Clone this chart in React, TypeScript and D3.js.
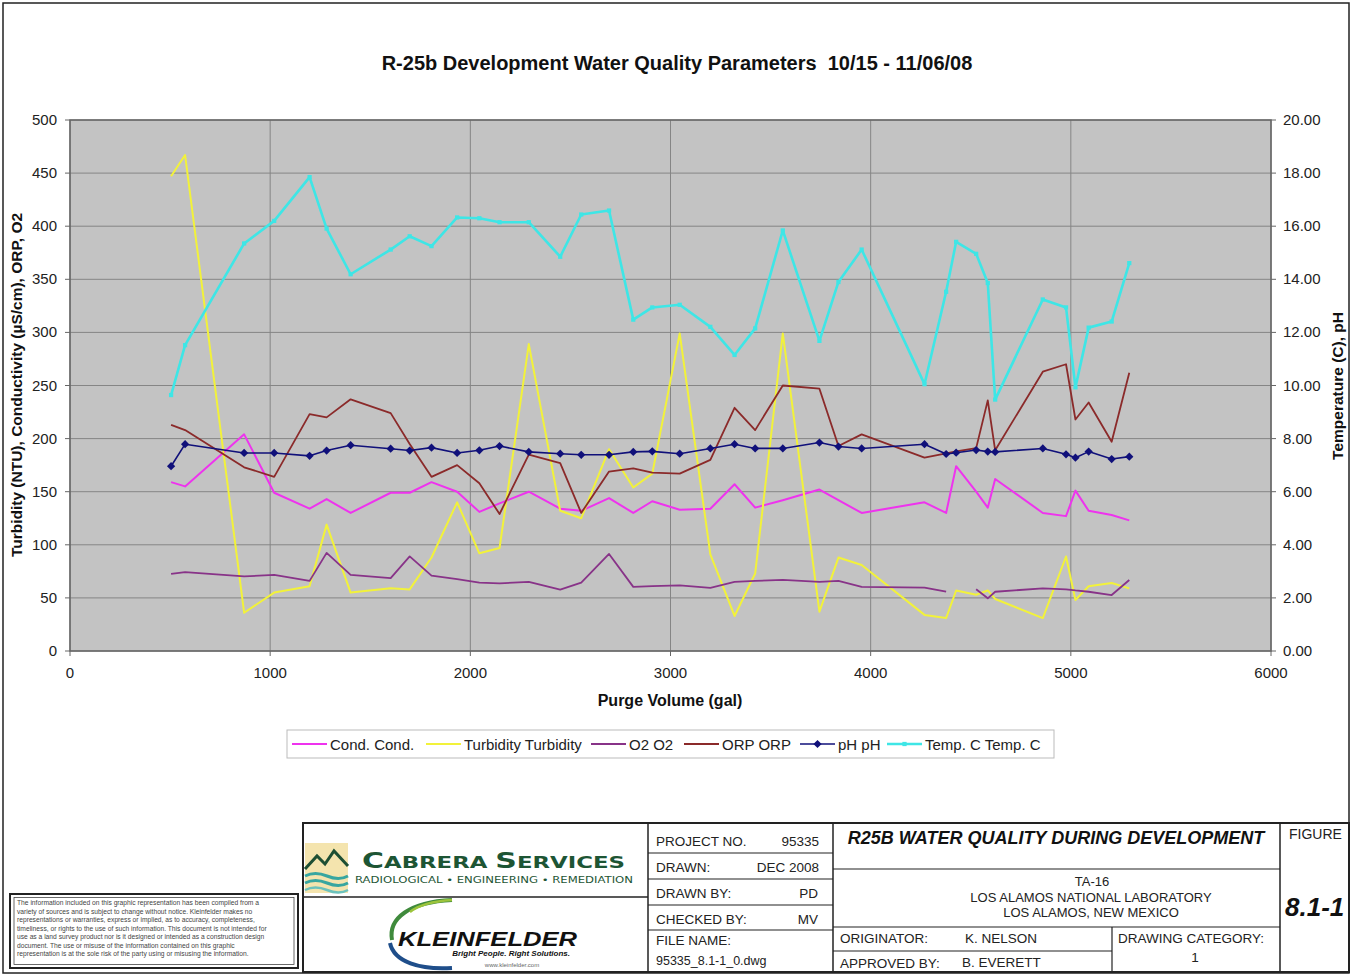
import React from 'react';
import * as d3 from 'd3';

// purge volume (gal) for each reading
const gallons = [505, 575, 870, 1020, 1197, 1282, 1402, 1602, 1697, 1806, 1934, 2045, 2146, 2292, 2449, 2554, 2693, 2814, 2909, 3046, 3199, 3320, 3423, 3561, 3744, 3839, 3955, 4269, 4377, 4427, 4527, 4585, 4622, 4860, 4976, 5023, 5089, 5204, 5292];

// left axis series
const cond = [159, 155, 204, 149, 134, 143, 130, 149, 149, 159, 150, 131, 139, 150, 134, 132, 144, 130, 141, 133, 134, 157, 135, 142, 152, 142, 130, 140, 130, 174, 150, 135, 162, 130, 127, 151, 132, 128, 123];
const turbidity = [447, 467, 36, 55, 61, 119, 55, 59, 58, 88, 140, 92, 97, 289, 132, 125, 190, 154, 167, 299, 91, 33, 73, 299, 37, 88, 81, 34, 31, 57, 53, 57, 49, 31, 89, 48, 61, 64, 59];
const o2 = [72.6, 74.3, 70.3, 71.6, 66.0, 92.4, 71.6, 68.6, 89.1, 71.0, 67.7, 64.4, 63.7, 65.0, 57.8, 64.4, 91.4, 60.4, 61.1, 61.7, 59.4, 65.0, 66.0, 67.0, 65.0, 66.0, 60.4, 59.6, 55.8, null, 58.1, 49.6, 55.8, 59.0, 58.1, 57.0, 55.8, 52.7, 66.9];
const orp = [213, 208, 173, 164, 223, 220, 237, 224, 195, 164, 175, 158, 129, 185, 177, 130, 169, 172, 168, 167, 180, 229, 208, 250, 247, 193, 204, 182, 186, 188, 191, 236, 189, 263, 270, 218, 234, 197, 262];

// right axis series
const ph = [6.96, 7.79, 7.46, 7.46, 7.35, 7.55, 7.75, 7.62, 7.55, 7.66, 7.46, 7.56, 7.72, 7.50, 7.43, 7.39, 7.39, 7.50, 7.52, 7.43, 7.63, 7.79, 7.63, 7.63, 7.85, 7.70, 7.63, 7.79, 7.42, 7.47, 7.57, 7.51, 7.50, 7.63, 7.41, 7.28, 7.51, 7.23, 7.32];
const temp = [9.64, 11.52, 15.35, 16.20, 17.85, 15.91, 14.19, 15.12, 15.62, 15.25, 16.33, 16.30, 16.15, 16.15, 14.85, 16.44, 16.59, 12.48, 12.94, 13.04, 12.21, 11.15, 12.15, 15.84, 11.68, 13.90, 15.12, 10.05, 13.53, 15.41, 14.96, 13.86, 9.47, 13.24, 12.94, 9.93, 12.18, 12.41, 14.61];

const legendLabels = ['Cond. Cond.', 'Turbidity Turbidity', 'O2 O2', 'ORP ORP', 'pH pH', 'Temp. C Temp. C'];

const disclaimer = [
  'The information included on this graphic representation has been compiled from a',
  'variety of sources and is subject to change without notice. Kleinfelder makes no',
  'representations or warranties, express or implied, as to accuracy, completeness,',
  'timeliness, or rights to the use of such information. This document is not intended for',
  'use as a land survey product nor is it designed or intended as a construction design',
  'document. The use or misuse of the information contained on this graphic',
  'representation is at the sole risk of the party using or misusing the information.',
];

const FONT = '"Liberation Sans", Arial, sans-serif';

export default function App() {
  const x = d3.scaleLinear().domain([0, 6000]).range([70, 1271]);
  const yL = d3.scaleLinear().domain([0, 500]).range([651, 120]);
  const yR = d3.scaleLinear().domain([0, 20]).range([651, 120]);

  const series = [
    { values: cond, color: '#ee33ee', width: 2, scale: yL, marker: null },
    { values: turbidity, color: '#f2f23a', width: 2, scale: yL, marker: null },
    { values: o2, color: '#883388', width: 1.8, scale: yL, marker: null },
    { values: orp, color: '#8b2a2a', width: 1.8, scale: yL, marker: null },
    { values: ph, color: '#10107a', width: 1.6, scale: yR, marker: 'diamond' },
    { values: temp, color: '#3ee6e6', width: 2.6, scale: yR, marker: 'square' },
  ];

  const lineFor = (scale: any) =>
    d3.line<number | null>()
      .defined(v => v != null)
      .x((_, i) => x(gallons[i]))
      .y(v => scale(v as number));

  const diamond = d3.symbol(d3.symbolSquare, 34)();
  const square = d3.symbol(d3.symbolSquare, 18)();

  const legendX = [292, 426, 591, 684, 800, 887];

  return (
    <svg width={1352} height={976} style={{ position: 'absolute', left: 0, top: 0, background: '#fff' }} fontFamily={FONT}>
      <rect x={3} y={3} width={1346} height={970} fill="none" stroke="#222" strokeWidth={1.5} />

      <text x={677} y={70} textAnchor="middle" fontSize={20} fontWeight="bold" fill="#111">
        R-25b Development Water Quality Parameters{'\u00a0\u00a0'}10/15 - 11/06/08
      </text>

      {/* plot area */}
      <rect x={70} y={120} width={1201} height={531} fill="#c3c3c3" />
      {yL.ticks(10).map(t => (
        <line key={'h' + t} x1={70} x2={1271} y1={yL(t)} y2={yL(t)} stroke="#858585" strokeWidth={1} />
      ))}
      {x.ticks(6).map(t => (
        <line key={'v' + t} x1={x(t)} x2={x(t)} y1={120} y2={651} stroke="#858585" strokeWidth={1} />
      ))}
      <rect x={70} y={120} width={1201} height={531} fill="none" stroke="#666" strokeWidth={1.5} />

      {/* axes */}
      {yL.ticks(10).map(t => (
        <g key={'yl' + t}>
          <line x1={65} x2={70} y1={yL(t)} y2={yL(t)} stroke="#666" />
          <text x={57} y={yL(t) + 5} textAnchor="end" fontSize={15} fill="#222">{t}</text>
        </g>
      ))}
      {yR.ticks(10).map(t => (
        <g key={'yr' + t}>
          <line x1={1271} x2={1276} y1={yR(t)} y2={yR(t)} stroke="#666" />
          <text x={1283} y={yR(t) + 5} fontSize={15} fill="#222">{d3.format('.2f')(t)}</text>
        </g>
      ))}
      {x.ticks(6).map(t => (
        <g key={'xt' + t}>
          <line x1={x(t)} x2={x(t)} y1={651} y2={656} stroke="#666" />
          <text x={x(t)} y={678} textAnchor="middle" fontSize={15} fill="#222">{t}</text>
        </g>
      ))}
      <text transform="translate(22,385) rotate(-90)" textAnchor="middle" fontSize={15.5} fontWeight="bold" fill="#111">
        Turbidity (NTU), Conductivity (µS/cm), ORP, O2
      </text>
      <text transform="translate(1343,386) rotate(-90)" textAnchor="middle" fontSize={15.5} fontWeight="bold" fill="#111">
        Temperature (C), pH
      </text>
      <text x={670} y={706} textAnchor="middle" fontSize={16} fontWeight="bold" fill="#111">Purge Volume (gal)</text>

      {/* series */}
      {series.map((s, k) => (
        <g key={'s' + k}>
          <path d={lineFor(s.scale)(s.values) || ''} fill="none" stroke={s.color} strokeWidth={s.width} strokeLinejoin="round" />
          {s.marker && s.values.map((v, i) => v == null ? null : (
            <path key={i} d={(s.marker === 'diamond' ? diamond : square) || ''}
              transform={`translate(${x(gallons[i])},${s.scale(v)})${s.marker === 'diamond' ? ' rotate(45)' : ''}`}
              fill={s.color} />
          ))}
        </g>
      ))}

      {/* legend */}
      <rect x={287} y={730} width={767} height={28} fill="#fff" stroke="#bbb" strokeWidth={1} />
      {series.map((s, k) => (
        <g key={'lg' + k} transform={`translate(${legendX[k]},744)`}>
          <line x1={0} x2={35} y1={0} y2={0} stroke={s.color} strokeWidth={s.width} />
          {s.marker && (
            <path d={(s.marker === 'diamond' ? diamond : square) || ''} transform={`translate(17.5,0)${s.marker === 'diamond' ? ' rotate(45)' : ''}`} fill={s.color} />
          )}
          <text x={38} y={5.5} fontSize={15} fill="#222">{legendLabels[k]}</text>
        </g>
      ))}

      {/* disclaimer box */}
      <rect x={10} y={894} width={288} height={74} fill="#fff" stroke="#222" strokeWidth={2} />
      <rect x={14} y={897.5} width={280} height={67} fill="none" stroke="#444" strokeWidth={0.8} />
      {disclaimer.map((l, i) => (
        <text key={'d' + i} x={17} y={905 + i * 8.5} fontSize={6.7} fill="#444">{l}</text>
      ))}

      {/* title block */}
      <g stroke="#222" fill="none">
        <rect x={303} y={823} width={1046} height={149} strokeWidth={2} />
        <line x1={303} x2={648} y1={897} y2={897} strokeWidth={1.5} />
        <line x1={648} x2={648} y1={823} y2={972} strokeWidth={1.5} />
        <line x1={833} x2={833} y1={823} y2={972} strokeWidth={1.5} />
        <line x1={1280} x2={1280} y1={823} y2={972} strokeWidth={1.5} />
        {[853, 879, 905, 930].map(yy => <line key={yy} x1={648} x2={833} y1={yy} y2={yy} strokeWidth={1.2} />)}
        <line x1={833} x2={1280} y1={869} y2={869} strokeWidth={1.2} />
        <line x1={833} x2={1280} y1={927} y2={927} strokeWidth={1.2} />
        <line x1={833} x2={1112} y1={951} y2={951} strokeWidth={1.2} />
        <line x1={1112} x2={1112} y1={927} y2={972} strokeWidth={1.2} />
      </g>
      <g fontSize={13.5} fill="#222">
        <text x={656} y={846}>PROJECT NO.</text>
        <text x={819} y={846} textAnchor="end">95335</text>
        <text x={656} y={872}>DRAWN:</text>
        <text x={819} y={872} textAnchor="end">DEC 2008</text>
        <text x={656} y={898}>DRAWN BY:</text>
        <text x={818} y={898} textAnchor="end">PD</text>
        <text x={656} y={924}>CHECKED BY:</text>
        <text x={818} y={924} textAnchor="end">MV</text>
        <text x={656} y={945}>FILE NAME:</text>
        <text x={656} y={965} fontSize={12.5}>95335_8.1-1_0.dwg</text>
        <text x={1092} y={886} textAnchor="middle" fontSize={13}>TA-16</text>
        <text x={1091} y={902} textAnchor="middle" fontSize={13}>LOS ALAMOS NATIONAL LABORATORY</text>
        <text x={1091} y={917} textAnchor="middle" fontSize={13}>LOS ALAMOS, NEW MEXICO</text>
        <text x={840} y={943}>ORIGINATOR:</text>
        <text x={965} y={943}>K. NELSON</text>
        <text x={840} y={968}>APPROVED BY:</text>
        <text x={962} y={967}>B. EVERETT</text>
        <text x={1118} y={943}>DRAWING CATEGORY:</text>
        <text x={1195} y={962} textAnchor="middle">1</text>
        <text x={1289} y={839} fontSize={14}>FIGURE</text>
      </g>
      <text x={1056} y={844} textAnchor="middle" fontSize={18} fontWeight="bold" fontStyle="italic" fill="#111">
        R25B WATER QUALITY DURING DEVELOPMENT
      </text>
      <text x={1285} y={916} fontSize={26} fontWeight="bold" fontStyle="italic" fill="#111">8.1-1</text>

      {/* Cabrera logo */}
      <rect x={305} y={843} width={43} height={50} fill="#f4e4ae" />
      <path d="M305,869 L317,856 L325,864 L334,851 L348,866" fill="none" stroke="#1d4f33" strokeWidth={3} />
      <path d="M305,876 q10,-5 22,0 t21,0" fill="none" stroke="#37a6a0" strokeWidth={3} />
      <path d="M305,883 q10,-5 22,0 t21,0" fill="none" stroke="#37a6a0" strokeWidth={3} />
      <path d="M305,890 q10,-5 22,0 t21,0" fill="none" stroke="#6cc2bc" strokeWidth={2.5} />
      <text x={362} y={868} fill="#1d5534" fontFamily='"DejaVu Sans", sans-serif' fontWeight="bold" textLength={263} lengthAdjust="spacingAndGlyphs">
        <tspan fontSize={21}>C</tspan><tspan fontSize={16}>ABRERA </tspan><tspan fontSize={21}>S</tspan><tspan fontSize={16}>ERVICES</tspan>
      </text>
      <text x={355} y={883} fill="#1d5534" fontFamily='"DejaVu Sans", sans-serif' fontSize={8.5} textLength={278} lengthAdjust="spacingAndGlyphs">
        RADIOLOGICAL • ENGINEERING • REMEDIATION
      </text>

      {/* Kleinfelder logo */}
      <path d="M392,940 C388,918 410,902 452,900" fill="none" stroke="#3f8a3c" strokeWidth={4} />
      <path d="M410,912 C420,904 436,901 452,900" fill="none" stroke="#9cc43c" strokeWidth={2.5} />
      <path d="M390,943 C394,962 420,970 452,968" fill="none" stroke="#1f4e8a" strokeWidth={4} />
      <text x={398} y={946} fontSize={21} fontWeight="bold" fontStyle="italic" fill="#111" textLength={179} lengthAdjust="spacingAndGlyphs">KLEINFELDER</text>
      <text x={570} y={956} textAnchor="end" fontSize={8} fontWeight="bold" fontStyle="italic" fill="#111">Bright People. Right Solutions.</text>
      <text x={512} y={967} textAnchor="middle" fontSize={6} fill="#666">www.kleinfelder.com</text>
    </svg>
  );
}
